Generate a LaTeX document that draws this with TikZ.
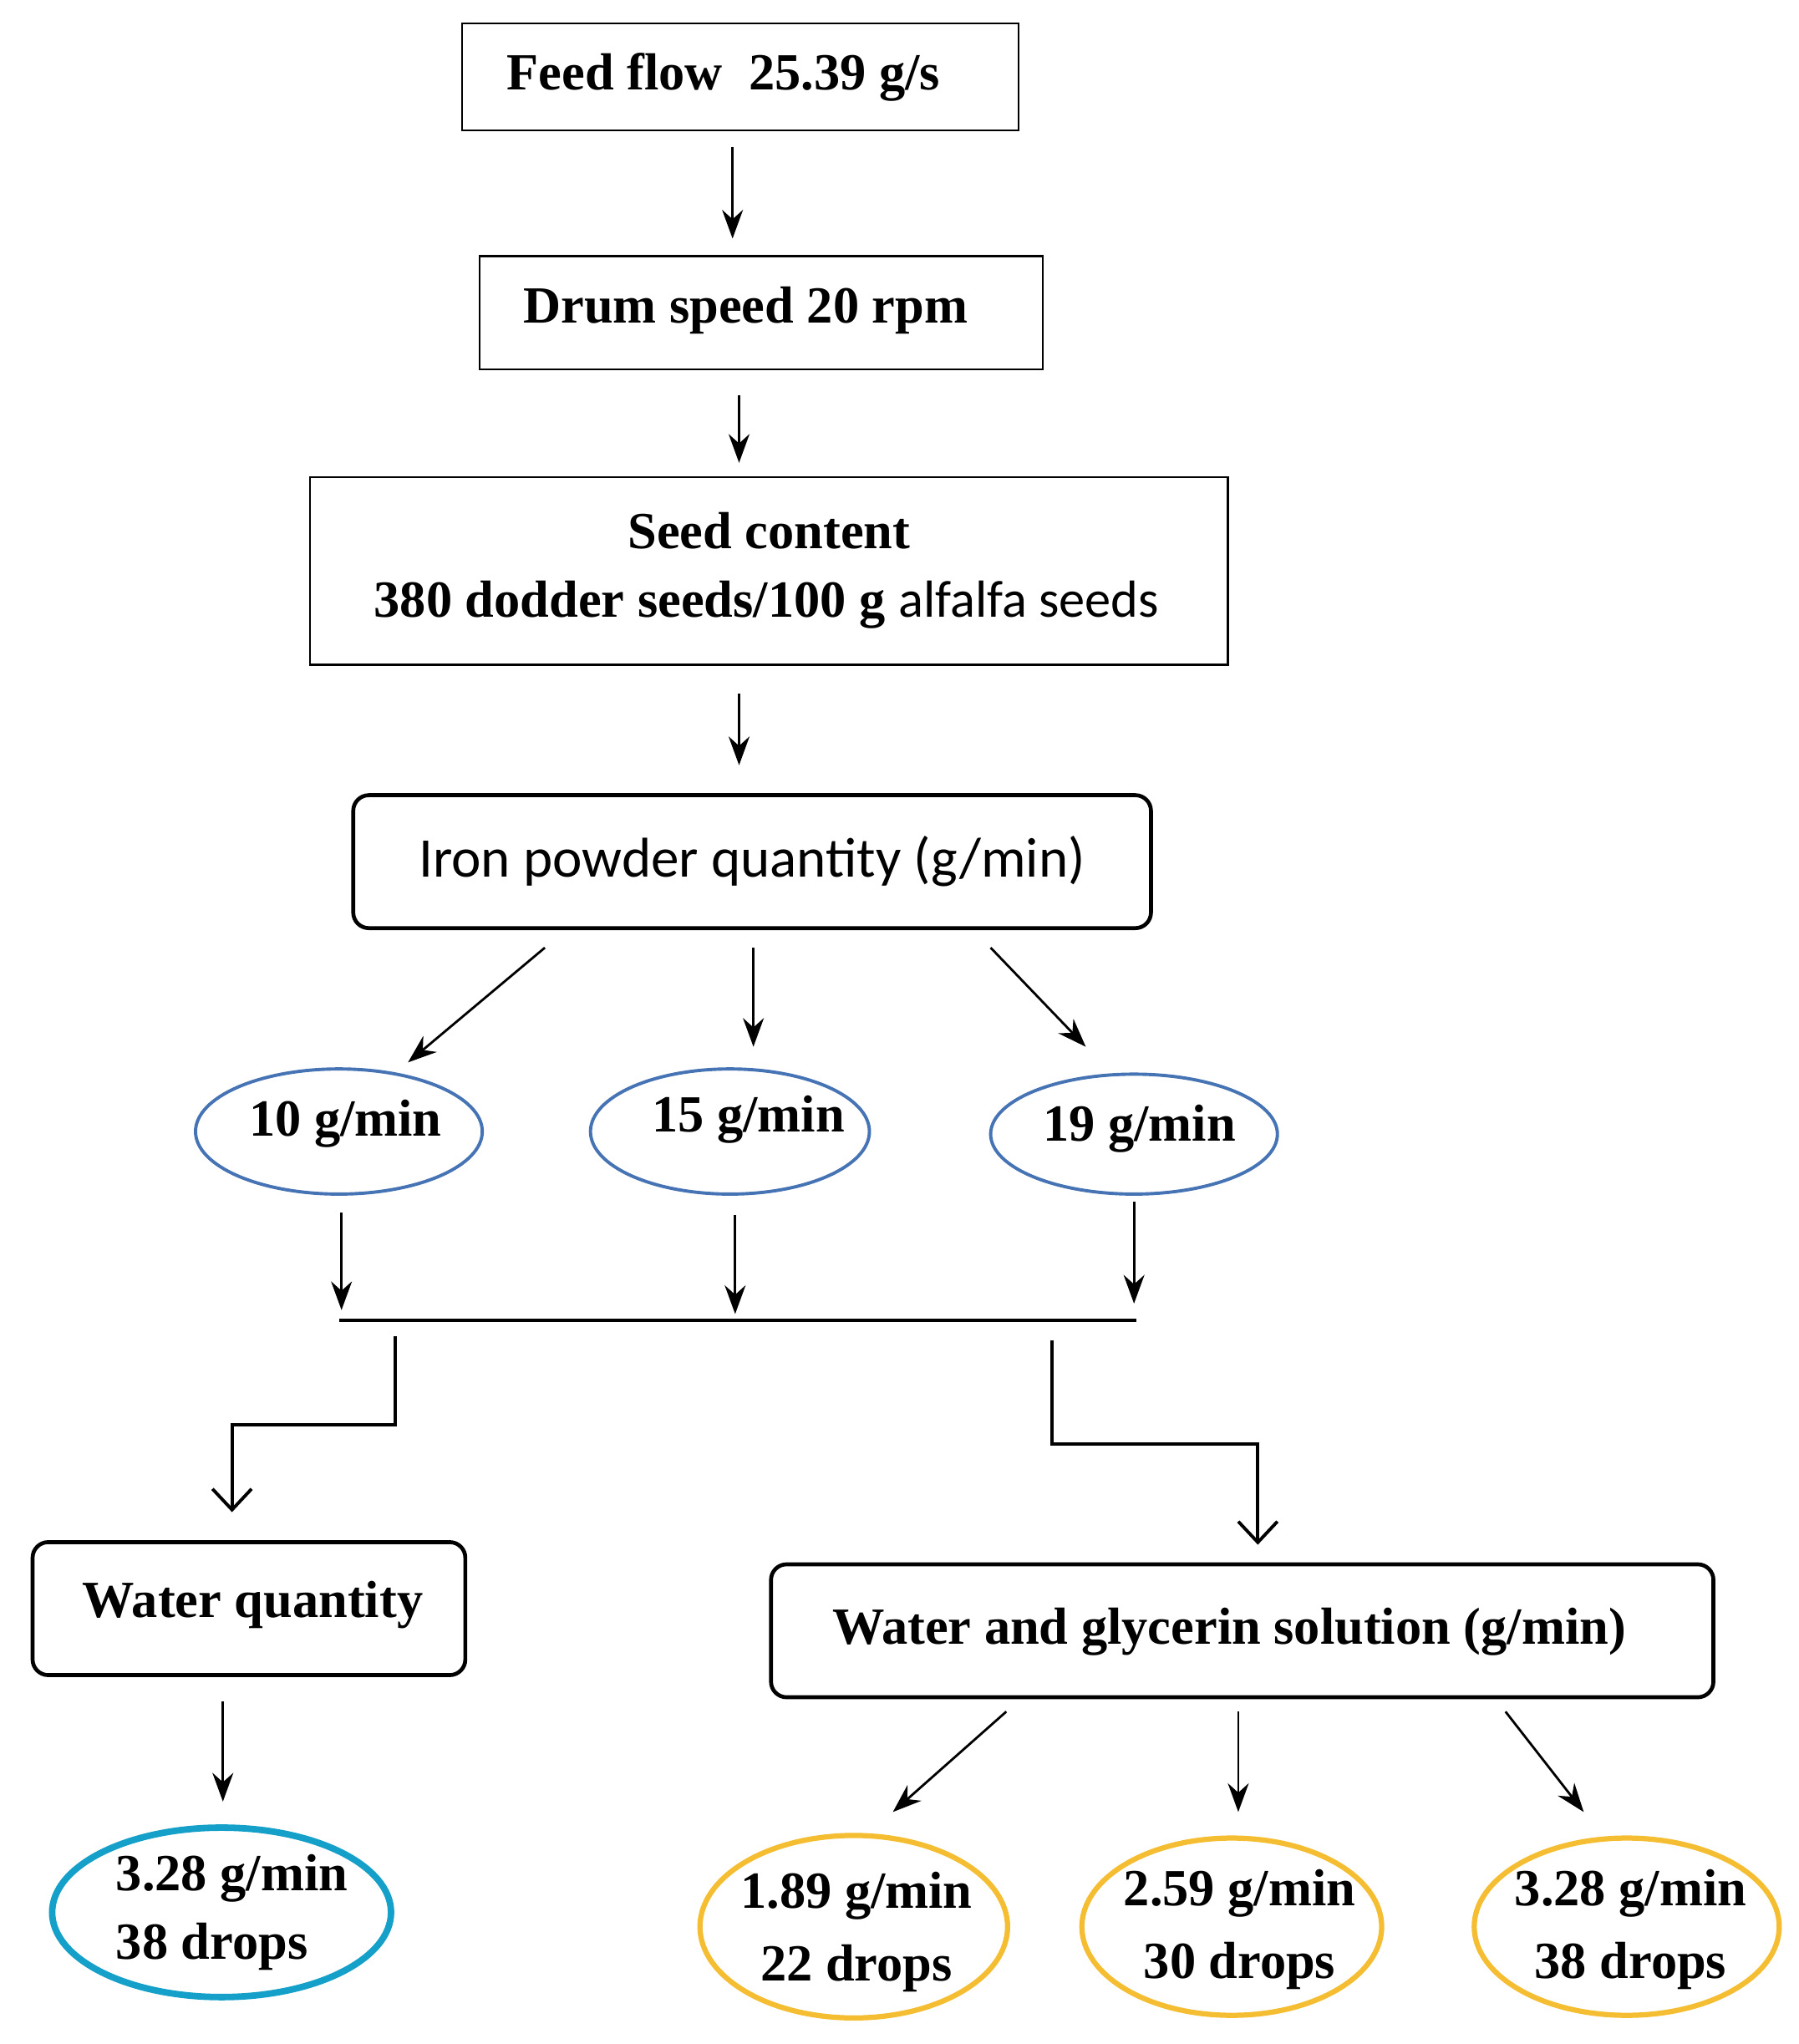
\documentclass[tikz,border=0pt]{standalone}
\usepackage{fontspec}
\setmainfont{Liberation Serif}
\newfontfamily\carl{Carlito}
\usetikzlibrary{arrows.meta,shapes.geometric}
\begin{document}
\begin{tikzpicture}[x=1pt,y=-1pt,
  txt/.style={font=\fontsize{40}{48}\selectfont\bfseries},
  box/.style={draw,line width=1.5pt,inner sep=0},
  rbox/.style={draw,line width=3pt,rounded corners=12pt,inner sep=0},
  blu/.style={draw={rgb,255:red,70;green,115;blue,180},line width=2.5pt,ellipse,inner sep=0},
  org/.style={draw={rgb,255:red,245;green,190;blue,50},line width=4pt,ellipse,inner sep=0},
  cya/.style={draw={rgb,255:red,20;green,160;blue,200},line width=5pt,ellipse,inner sep=0},
  arr/.style={-{Stealth[length=22pt,width=16pt]},line width=1.8pt},
  oarr/.style={-{Straight Barb[length=16pt,width=30pt]},line width=2.5pt}]
\useasboundingbox (0,0) rectangle (1380,1568);
\node[box,minimum width=427,minimum height=82] (b1) at (568,59) {};
\node[txt] at (555,59) {Feed flow\ \ 25.39 g/s};
\node[box,minimum width=432,minimum height=87] (b2) at (584,240) {};
\node[txt] at (572,238) {Drum speed 20 rpm};
\node[box,minimum width=704,minimum height=144] (b3) at (590,438) {};
\node[txt] at (590,407) {Seed content};
\node[txt] at (588,464) {380 dodder seeds/100 g {\carl\mdseries alfalfa seeds}};
\node[rbox,minimum width=612,minimum height=102] (b4) at (577,661) {};
\node[font=\fontsize{43}{48}\selectfont\carl] at (577,661) {Iron powder quantity (g/min)};
\node[blu,minimum width=220,minimum height=96] (e1) at (260,868) {};
\node[txt] at (265,862) {10 g/min};
\node[blu,minimum width=214,minimum height=96] (e2) at (560,868) {};
\node[txt] at (574,859) {15 g/min};
\node[blu,minimum width=220,minimum height=92] (e3) at (870,870) {};
\node[txt] at (874,866) {19 g/min};
\coordinate (a1) at (562,113); \coordinate (a2) at (562,183);
\draw[arr] (a1)--(a2);
\coordinate (c1) at (567,303); \coordinate (c2) at (567,355);
\draw[arr] (c1)--(c2);
\coordinate (d1) at (567,532); \coordinate (d2) at (567,587);
\draw[arr] (d1)--(d2);
\coordinate (f1) at (418,727); \coordinate (f2) at (313,815);
\coordinate (g1) at (578,727); \coordinate (g2) at (578,803);
\coordinate (h1) at (760,727); \coordinate (h2) at (833,803);
\draw[arr] (f1)--(f2); \draw[arr] (g1)--(g2); \draw[arr] (h1)--(h2);
\coordinate (i1) at (262,930); \coordinate (i2) at (262,1005);
\coordinate (j1) at (564,932); \coordinate (j2) at (564,1008);
\coordinate (k1) at (870,922); \coordinate (k2) at (870,1000);
\draw[arr] (i1)--(i2); \draw[arr] (j1)--(j2); \draw[arr] (k1)--(k2);
\coordinate (L1) at (260,1013); \coordinate (L2) at (872,1013);
\draw[line width=2.5pt] (L1)--(L2);
\coordinate (m1) at (303,1025); \coordinate (m2) at (178,1160);
\draw[oarr] (m1)|-(240,1093)-|(m2);
\coordinate (n1) at (807,1028); \coordinate (n2) at (965,1185);
\draw[oarr] (n1)|-(900,1108)-|(n2);
\node[rbox,minimum width=332,minimum height=102] (b5) at (191,1234) {};
\node[txt] at (194,1231) {Water quantity};
\node[rbox,minimum width=723,minimum height=102] (b6) at (953,1251) {};
\node[txt] at (943,1252) {Water and glycerin solution (g/min)};
\coordinate (p1) at (171,1305); \coordinate (p2) at (171,1382);
\draw[arr] (p1)--(p2);
\node[cya,minimum width=260,minimum height=130] (e4) at (170,1467) {};
\node[txt,align=left] at (178,1467) {3.28 g/min\\[4pt]38 drops};
\coordinate (q1) at (772,1313); \coordinate (q2) at (685,1390);
\coordinate (r1) at (950,1313); \coordinate (r2) at (950,1390);
\coordinate (s1) at (1155,1313); \coordinate (s2) at (1215,1390);
\draw[arr] (q1)--(q2); \draw[arr] (r1)--(r2); \draw[arr] (s1)--(s2);
\node[org,minimum width=236,minimum height=140] (e5) at (655,1478) {};
\node[txt,align=center] at (657,1482) {1.89 g/min\\[8pt]22 drops};
\node[org,minimum width=230,minimum height=136] (e6) at (945,1478) {};
\node[txt,align=center] at (951,1480) {2.59 g/min\\[8pt]30 drops};
\node[org,minimum width=234,minimum height=136] (e7) at (1248,1478) {};
\node[txt,align=center] at (1251,1480) {3.28 g/min\\[8pt]38 drops};
\end{tikzpicture}
\end{document}
